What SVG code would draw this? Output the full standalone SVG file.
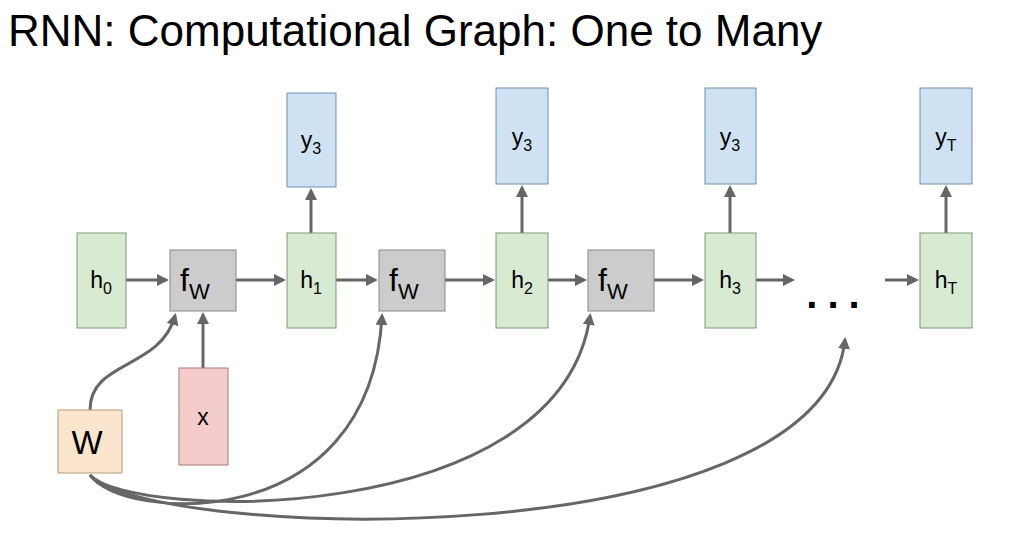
<svg xmlns="http://www.w3.org/2000/svg" width="1032" height="533" viewBox="0 0 1032 533">
<style>
.t{font-family:"Liberation Sans",Arial,sans-serif;fill:#000}
.h{fill:#d9ead3;stroke:#7a9a6e;stroke-width:1}
.y{fill:#cfe2f3;stroke:#6f8fae;stroke-width:1}
.f{fill:#cccccc;stroke:#888;stroke-width:1}
.c{fill:none;stroke:#666;stroke-width:3;marker-end:url(#a)}
</style>
<defs><marker id="a" markerWidth="4" markerHeight="4" refX="3" refY="2" orient="auto"><path d="M0,0L4,2L0,4z" fill="#666"/></marker></defs>
<rect width="1032" height="533" fill="#fff"/>
<text class="t" x="8" y="46" font-size="44">RNN: Computational Graph: One to Many</text>
<g id="connectors">
<path class="c" d="M126,280H166"/><path class="c" d="M236,280H283"/><path class="c" d="M336,280H375"/>
<path class="c" d="M445,280H492"/><path class="c" d="M548,280H584"/><path class="c" d="M654,280H701"/>
<path class="c" d="M756,280H792"/><path class="c" d="M885,280H916"/>
<path class="c" d="M311,233V191"/><path class="c" d="M522,233V188"/><path class="c" d="M730,233V188"/><path class="c" d="M946,233V188"/>
<path class="c" d="M203,368V315"/>
<path class="c" d="M90,410C90,360 160,370 175,316"/>
<path class="c" d="M90,475C120,520 370,540 382,316"/>
<path class="c" d="M90,475C130,520 560,530 590,316"/>
<path class="c" d="M90,475C150,540 820,560 845,340"/>
</g>
<g id="h0"><rect class="h" x="77" y="233" width="49" height="95"/><text class="t" x="101" y="288" font-size="23" text-anchor="middle">h<tspan font-size="16" dy="6">0</tspan></text></g>
<g id="fw1"><rect class="f" x="170" y="250" width="66" height="61"/><text class="t" x="180" y="291" font-size="32">f<tspan font-size="22" dy="8">W</tspan></text></g>
<g id="h1"><rect class="h" x="287" y="233" width="49" height="95"/><text class="t" x="311" y="288" font-size="23" text-anchor="middle">h<tspan font-size="16" dy="6">1</tspan></text></g>
<g id="y1"><rect class="y" x="287" y="93" width="49" height="94"/><text class="t" x="311" y="148" font-size="23" text-anchor="middle">y<tspan font-size="16" dy="6">3</tspan></text></g>
<g id="fw2"><rect class="f" x="379" y="250" width="66" height="61"/><text class="t" x="389" y="291" font-size="32">f<tspan font-size="22" dy="8">W</tspan></text></g>
<g id="h2"><rect class="h" x="496" y="233" width="52" height="95"/><text class="t" x="522" y="288" font-size="23" text-anchor="middle">h<tspan font-size="16" dy="6">2</tspan></text></g>
<g id="y2"><rect class="y" x="496" y="88" width="52" height="96"/><text class="t" x="522" y="145" font-size="23" text-anchor="middle">y<tspan font-size="16" dy="6">3</tspan></text></g>
<g id="fw3"><rect class="f" x="588" y="250" width="66" height="61"/><text class="t" x="598" y="291" font-size="32">f<tspan font-size="22" dy="8">W</tspan></text></g>
<g id="h3"><rect class="h" x="705" y="233" width="51" height="95"/><text class="t" x="730" y="288" font-size="23" text-anchor="middle">h<tspan font-size="16" dy="6">3</tspan></text></g>
<g id="y3"><rect class="y" x="705" y="88" width="51" height="96"/><text class="t" x="730" y="145" font-size="23" text-anchor="middle">y<tspan font-size="16" dy="6">3</tspan></text></g>
<g id="dots"><text class="t" x="838" y="308" font-size="40" font-weight="bold" text-anchor="middle" letter-spacing="10">...</text></g>
<g id="hT"><rect class="h" x="920" y="233" width="52" height="95"/><text class="t" x="946" y="288" font-size="23" text-anchor="middle">h<tspan font-size="16" dy="6">T</tspan></text></g>
<g id="yT"><rect class="y" x="920" y="88" width="52" height="96"/><text class="t" x="946" y="145" font-size="23" text-anchor="middle">y<tspan font-size="16" dy="6">T</tspan></text></g>
<g id="x"><rect fill="#f4cccc" stroke="#b07878" x="179" y="368" width="49" height="97"/><text class="t" x="203" y="425" font-size="23" text-anchor="middle">x</text></g>
<g id="W"><rect fill="#fce5cd" stroke="#b89a78" x="58" y="410" width="64" height="63"/><text class="t" x="87" y="454" font-size="33" text-anchor="middle">W</text></g>
</svg>
